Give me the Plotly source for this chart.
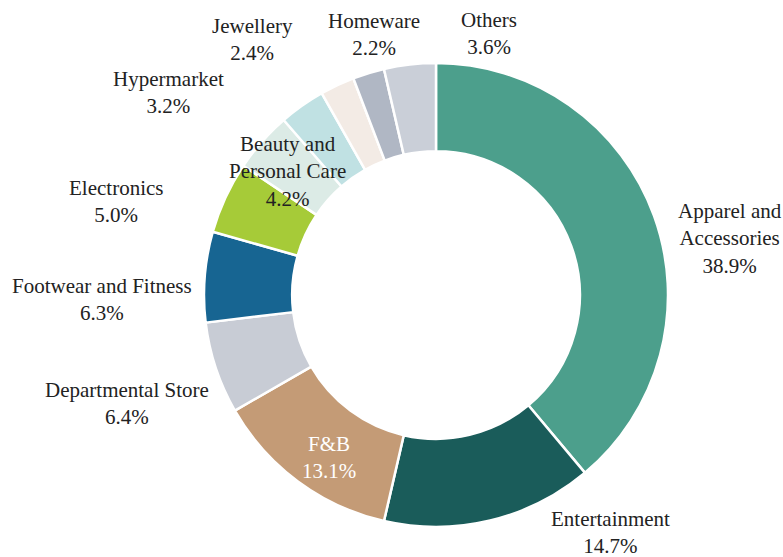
import plotly.graph_objects as go

categories = ["Apparel and<br>Accessories", "Entertainment", "F&B", "Departmental Store",
              "Footwear and Fitness", "Electronics", "Beauty and<br>Personal Care",
              "Hypermarket", "Jewellery", "Homeware", "Others"]
shares = [38.9, 14.7, 13.1, 6.4, 6.3, 5.0, 4.2, 3.2, 2.4, 2.2, 3.6]
colors = ["#4c9f8c", "#1a5c5a", "#c49b76", "#c8ccd5", "#176592", "#a6cb38",
          "#dcebe6", "#c0e1e3", "#f3ebe5", "#b0b7c4", "#cacfd8"]

# label anchor positions in screen pixels (x, y-centre) for annotations
label_pos = [(730, 238), (610, 532), (329, 457), (127, 403), (102, 299), (116, 202),
             (287, 171), (168, 92), (252, 39), (374, 34), (489, 33)]
label_colors = ["#222"] * len(categories)
label_colors[2] = "white"

W, H = 783, 557
cx, cy, R = 436, 295, 232

fig = go.Figure(go.Pie(
    labels=categories, values=shares, sort=False, direction="clockwise", rotation=0,
    hole=0.62, marker=dict(colors=colors, line=dict(color="white", width=2.5)),
    textinfo="none", hoverinfo="label+percent", showlegend=False,
    domain=dict(x=[(cx - R) / W, (cx + R) / W], y=[(H - cy - R) / H, (H - cy + R) / H]),
))

for name, val, (px, py), col in zip(categories, shares, label_pos, label_colors):
    fig.add_annotation(x=px / W, y=1 - py / H, xref="paper", yref="paper",
                       text=f"{name}<br>{val:.1f}%", showarrow=False,
                       xanchor="center", yanchor="middle", align="center",
                       font=dict(family="Liberation Serif", size=21, color=col))

fig.update_layout(width=W, height=H, margin=dict(l=0, r=0, t=0, b=0),
                  paper_bgcolor="white", plot_bgcolor="white")
fig.write_html("out.html", config={"displayModeBar": False},
               post_script="document.body.style.margin='0';document.body.style.overflow='hidden';")
